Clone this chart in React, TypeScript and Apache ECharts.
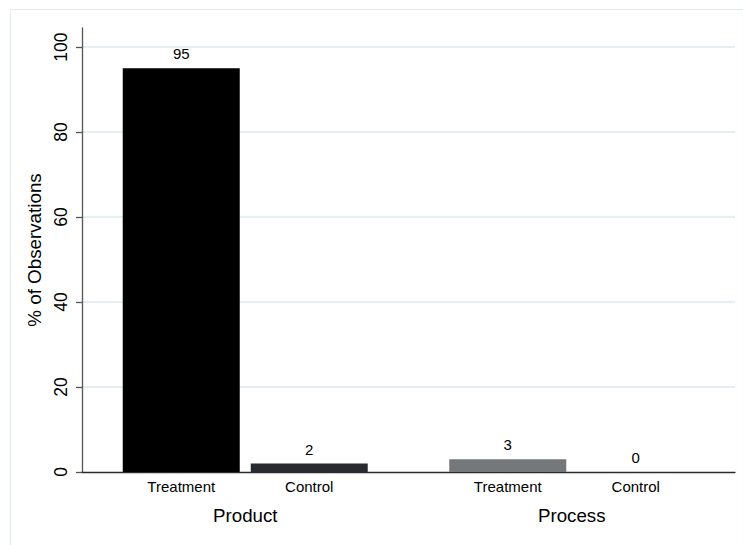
import React, { useEffect, useRef } from 'react';
import * as echarts from 'echarts';

const groups = ['Product', 'Process'];
const subLabels = ['Treatment', 'Control'];
const treatmentValues = [95, 3];
const controlValues = [2, 0];
const treatmentColors = ['#000000', '#75787b'];
const controlColors = ['#272b2f', '#9a9c9e'];
const yTicks = [0, 20, 40, 60, 80, 100];
const yTitle = '% of Observations';

const FONT = 'Liberation Sans, Arial, Helvetica, sans-serif';

export default function App() {
  const ref = useRef<HTMLDivElement>(null);
  useEffect(() => {
    if (!ref.current) return;
    const chart = echarts.init(ref.current, null, { renderer: 'svg' });
    const valueLabel = {
      show: true,
      position: 'top',
      distance: 7,
      fontSize: 15,
      color: '#000',
      fontFamily: FONT,
    };
    chart.setOption({
      animation: false,
      backgroundColor: '#ffffff',
      textStyle: { fontFamily: FONT },
      graphic: [
        {
          type: 'rect',
          shape: { x: 10.5, y: 9.5, width: 733, height: 545 },
          style: { fill: 'none', stroke: '#e2ecee', lineWidth: 1.2 },
          silent: true,
          z: -10,
        },
      ],
      grid: { left: 82, right: 8, top: 28, bottom: 73, containLabel: false },
      xAxis: {
        type: 'category',
        data: groups,
        boundaryGap: true,
        axisLine: { show: true, lineStyle: { color: '#2b2b2b', width: 1.3 } },
        axisTick: { show: false },
        splitLine: { show: false },
        axisLabel: {
          margin: 4,
          interval: 0,
          formatter: (v: string) => `{s|${subLabels[0]}}{s|${subLabels[1]}}\n{g|${v}}`,
          rich: {
            s: { width: 128, align: 'center', fontSize: 15, lineHeight: 20, color: '#000', fontFamily: FONT },
            g: { fontSize: 18.7, lineHeight: 38, color: '#000', fontFamily: FONT },
          },
        },
      },
      yAxis: {
        type: 'value',
        min: 0,
        max: 104.5,
        name: yTitle,
        nameLocation: 'middle',
        nameGap: 32,
        nameRotate: 90,
        nameTextStyle: { fontSize: 18.8, color: '#000', fontFamily: FONT },
        axisLine: { show: true, lineStyle: { color: '#555555', width: 1.3 } },
        axisTick: { show: true, length: 6, customValues: yTicks, lineStyle: { color: '#555555', width: 1.3 } },
        axisLabel: {
          customValues: yTicks,
          rotate: 90,
          margin: 12,
          fontSize: 17.5,
          color: '#000',
          fontFamily: FONT,
        },
        splitLine: { show: false },
      },
      series: [
        {
          name: subLabels[0],
          type: 'bar',
          barWidth: 117,
          barGap: '9.4%',
          data: treatmentValues.map((v, i) => ({ value: v, itemStyle: { color: treatmentColors[i] } })),
          label: valueLabel,
          markLine: {
            silent: true,
            symbol: 'none',
            label: { show: false },
            lineStyle: { color: '#dde9eb', width: 1.5, type: 'solid' },
            data: yTicks.filter((t) => t > 0).map((t) => ({ yAxis: t })),
            z: 0,
          },
          z: 3,
        },
        {
          name: subLabels[1],
          type: 'bar',
          barWidth: 117,
          barGap: '9.4%',
          data: controlValues.map((v, i) => ({ value: v, itemStyle: { color: controlColors[i] } })),
          label: valueLabel,
          z: 3,
        },
      ],
    });
    return () => chart.dispose();
  }, []);
  return (
    <div
      ref={ref}
      style={{ position: 'fixed', left: 0, top: 0, width: 743, height: 545 }}
    />
  );
}
